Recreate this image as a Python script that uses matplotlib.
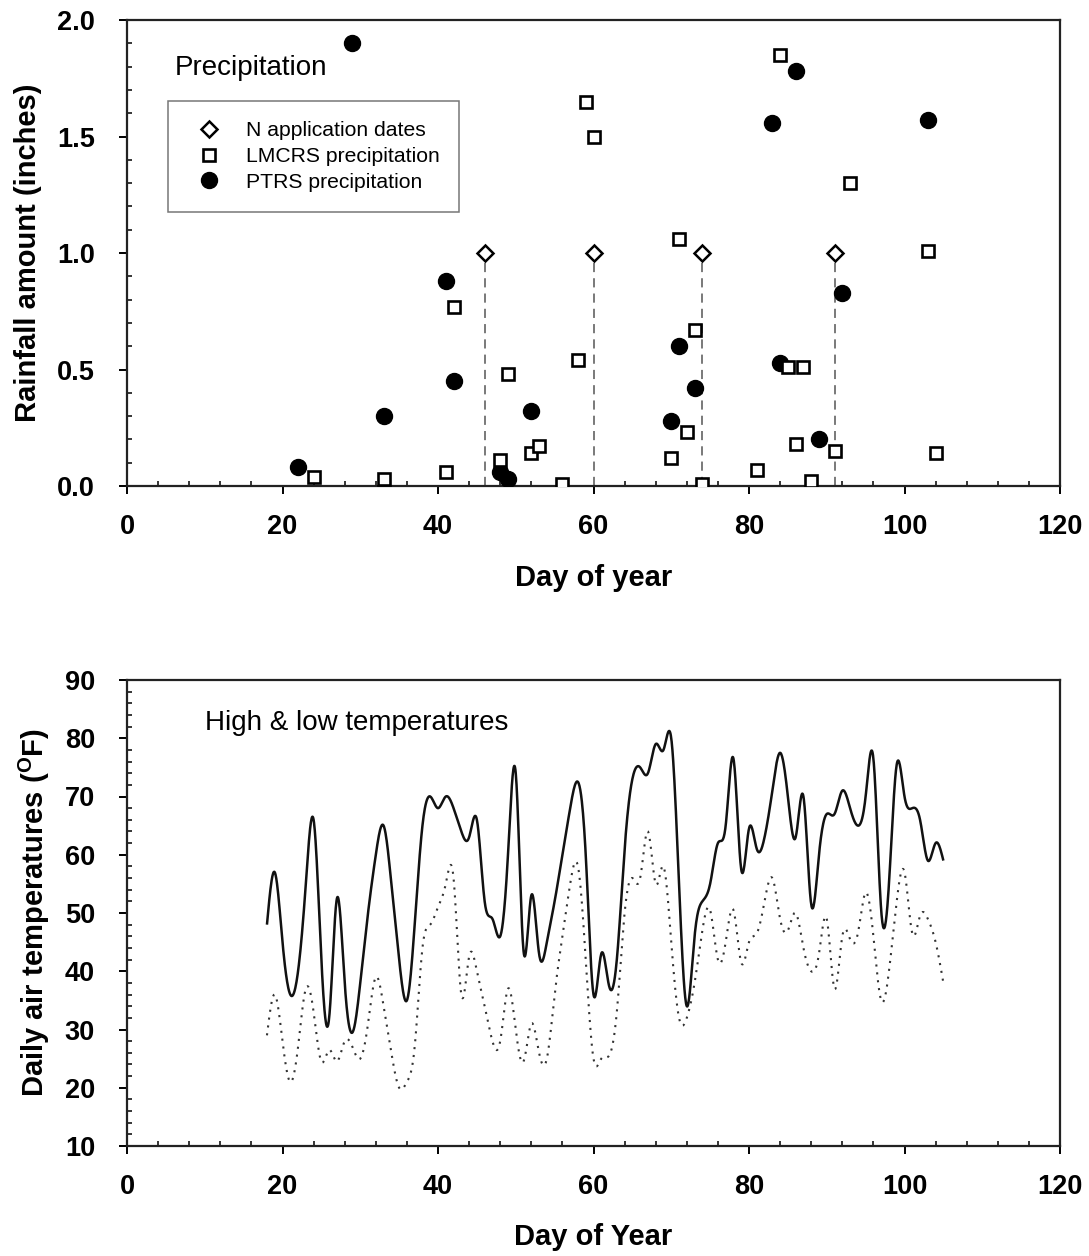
import numpy as np
import matplotlib
matplotlib.use("Agg")
import matplotlib.pyplot as plt
from matplotlib.ticker import MultipleLocator, FormatStrFormatter
from matplotlib.lines import Line2D

plt.rcParams['font.family'] = ['Liberation Sans', 'DejaVu Sans']
plt.rcParams['mathtext.fontset'] = 'custom'
plt.rcParams['mathtext.rm'] = 'Liberation Sans:bold'
plt.rcParams['mathtext.bf'] = 'Liberation Sans:bold'

# ---------------- data: precipitation ----------------
n_app_days = [46, 60, 74, 91]
n_app_vals = [1.0, 1.0, 1.0, 1.0]

lmcrs_days = [24, 33, 41, 42, 48, 49, 52, 53, 56, 58, 59, 60, 70, 71, 72, 73, 74,
              81, 84, 85, 86, 87, 88, 91, 93, 103, 104]
lmcrs_vals = [0.04, 0.03, 0.06, 0.77, 0.11, 0.48, 0.14, 0.17, 0.01, 0.54, 1.65, 1.50,
              0.12, 1.06, 0.23, 0.67, 0.01, 0.07, 1.85, 0.51, 0.18, 0.51, 0.02, 0.15,
              1.30, 1.01, 0.14]

ptrs_days = [22, 29, 33, 41, 42, 48, 49, 52, 70, 71, 73, 83, 84, 86, 89, 92, 103]
ptrs_vals = [0.08, 1.90, 0.30, 0.88, 0.45, 0.06, 0.03, 0.32, 0.28, 0.60, 0.42,
             1.56, 0.53, 1.78, 0.20, 0.83, 1.57]

# ---------------- data: temperatures ----------------
temp_days = list(range(18, 106))
high_temps = [48, 57, 45, 36, 40, 55, 66, 42, 32, 52.5, 38, 29.5, 38, 50, 60, 65, 55, 42,
              35, 48, 65, 70, 68, 70, 68, 64, 63, 66, 52, 49, 46, 60, 74, 43.5, 53, 43,
              45, 52, 60, 68, 72.5, 60, 36, 43, 37.5, 42, 61, 73, 75, 74, 79, 78, 80, 55,
              34, 46, 52, 55, 62, 65, 76.5, 57.5, 64.5, 61, 63, 71, 77.5, 70, 63, 70, 51.5,
              60, 67, 67, 71, 68, 65, 70, 76.5, 50.5, 55, 75.5, 70, 68, 66, 59, 62, 59]
low_temps = [29, 36, 28, 21, 27, 37, 33, 24.5, 26.5, 24.5, 28, 27, 25, 31, 39, 34, 26, 20,
             21, 27, 44, 48, 51, 55, 56, 36, 42.5, 40, 34, 28, 28, 37, 30, 24.5, 31, 26,
             25, 36, 46, 55, 58, 42, 25, 25, 25.5, 33, 50, 56, 56, 64, 55, 58, 45, 32,
             32, 38, 47, 50.5, 42, 45, 50.5, 41.5, 45, 46.5, 52, 56, 49, 47, 50, 44, 40,
             43, 49, 37, 46, 45.5, 46.5, 53.5, 46, 35, 40, 52, 57, 46.5, 49.5, 49, 45, 38]

x_ticks = [0, 20, 40, 60, 80, 100, 120]


def natural_spline(x, y, n=20):
    """Smooth rendering of a daily series (natural cubic spline through the points)."""
    x = np.asarray(x, float)
    y = np.asarray(y, float)
    m = len(x)
    h = np.diff(x)
    A = np.zeros((m, m))
    r = np.zeros(m)
    A[0, 0] = A[-1, -1] = 1.0
    for i in range(1, m - 1):
        A[i, i - 1] = h[i - 1]
        A[i, i] = 2 * (h[i - 1] + h[i])
        A[i, i + 1] = h[i]
        r[i] = 6 * ((y[i + 1] - y[i]) / h[i] - (y[i] - y[i - 1]) / h[i - 1])
    M = np.linalg.solve(A, r)
    xs, ys = [], []
    for i in range(m - 1):
        t = np.linspace(x[i], x[i + 1], n, endpoint=(i == m - 2))
        a = x[i + 1] - t
        b = t - x[i]
        s = (M[i] * a ** 3 + M[i + 1] * b ** 3) / (6 * h[i]) \
            + (y[i] / h[i] - M[i] * h[i] / 6) * a + (y[i + 1] / h[i] - M[i + 1] * h[i] / 6) * b
        xs.append(t)
        ys.append(s)
    return np.concatenate(xs), np.concatenate(ys)


W, H = 1089, 1256
fig = plt.figure(figsize=(W / 100, H / 100), dpi=100)

L, R = 127, 1060


def make_axes(top, bottom):
    return fig.add_axes([L / W, 1 - bottom / H, (R - L) / W, (bottom - top) / H])


ax1 = make_axes(20, 486)
ax2 = make_axes(680, 1146)

TICK_FS = 19.5
LABEL_FS = 21

for ax in (ax1, ax2):
    for s in ax.spines.values():
        s.set_linewidth(1.6)
        s.set_color('#222222')
    ax.set_xlim(0, 120)
    ax.set_xticks(x_ticks)
    ax.xaxis.set_minor_locator(MultipleLocator(4))
    ax.tick_params(which='major', direction='out', length=6, width=1.4,
                   labelsize=TICK_FS, top=False, right=False)
    ax.tick_params(which='minor', direction='in', length=3.5, width=1.1,
                   top=False, right=False)
    ax.tick_params(axis='x', which='major', pad=14)
    ax.tick_params(axis='y', which='major', pad=17)

# ---------------- top: precipitation ----------------
ax1.set_ylim(0, 2.0)
ax1.set_yticks([0, 0.5, 1.0, 1.5, 2.0])
ax1.yaxis.set_major_formatter(FormatStrFormatter('%.1f'))
ax1.yaxis.set_minor_locator(MultipleLocator(0.1))
for lab in ax1.get_xticklabels() + ax1.get_yticklabels():
    lab.set_fontweight('bold')
    lab.set_fontsize(TICK_FS)

ax1.vlines(n_app_days, 0, n_app_vals, colors='#555555', linestyles=(0, (6, 4)),
           linewidth=1.1, zorder=2)
ax1.plot(n_app_days, n_app_vals, linestyle='none', marker='D', markersize=8,
         markerfacecolor='white', markeredgecolor='black', markeredgewidth=1.8, zorder=4)
ax1.plot(ptrs_days, ptrs_vals, linestyle='none', marker='o', markersize=11.5,
         markerfacecolor='black', markeredgecolor='black', zorder=3)
ax1.plot(lmcrs_days, lmcrs_vals, linestyle='none', marker='s', markersize=8.5,
         markerfacecolor='white', markeredgecolor='black', markeredgewidth=1.9, zorder=4)

ax1.text(0.051, 0.896, 'Precipitation', transform=ax1.transAxes, fontsize=20,
         ha='left', va='center')

handles = [
    Line2D([], [], linestyle='none', marker='D', markersize=8, markerfacecolor='white',
           markeredgecolor='black', markeredgewidth=1.8),
    Line2D([], [], linestyle='none', marker='s', markersize=8.5, markerfacecolor='white',
           markeredgecolor='black', markeredgewidth=1.9),
    Line2D([], [], linestyle='none', marker='o', markersize=11.5, markerfacecolor='black',
           markeredgecolor='black'),
]
labels = ['N application dates', 'LMCRS precipitation', 'PTRS precipitation']
leg = ax1.legend(handles, labels, loc='upper left',
                 bbox_to_anchor=(0.044, 0.59, 0.312, 0.236), mode='expand',
                 fontsize=15.2, frameon=True, fancybox=False, edgecolor='#555555',
                 borderpad=0.95, labelspacing=0.32, handlelength=2.0,
                 handletextpad=0.75, borderaxespad=0.0, numpoints=1)
leg.get_frame().set_linewidth(1.1)

ax1.set_ylabel('Rainfall amount (inches)', fontsize=LABEL_FS, fontweight='bold')
ax1.set_xlabel('Day of year', fontsize=LABEL_FS, fontweight='bold')
ax1.yaxis.set_label_coords(-0.106, 0.5)
ax1.yaxis.label.set_va('center')
ax1.xaxis.set_label_coords(0.5, -0.197)
ax1.xaxis.label.set_va('center')

# ---------------- bottom: temperatures ----------------
ax2.set_ylim(10, 90)
ax2.set_yticks(range(10, 91, 10))
ax2.yaxis.set_minor_locator(MultipleLocator(2))
for lab in ax2.get_xticklabels() + ax2.get_yticklabels():
    lab.set_fontweight('bold')
    lab.set_fontsize(TICK_FS)

hx, hy = natural_spline(temp_days, high_temps)
lx, ly = natural_spline(temp_days, low_temps)
ax2.plot(hx, hy, color='#111111', linewidth=1.8, solid_capstyle='butt')
ax2.plot(lx, ly, color='#333333', linewidth=1.5, linestyle=(0, (1, 2.8)))

ax2.text(0.0836, 0.908, 'High & low temperatures', transform=ax2.transAxes,
         fontsize=20, ha='left', va='center')

ax2.set_ylabel(r'Daily air temperatures ($^{\mathrm{O}}$F)', fontsize=LABEL_FS,
               fontweight='bold')
ax2.set_xlabel('Day of Year', fontsize=LABEL_FS, fontweight='bold')
ax2.yaxis.set_label_coords(-0.099, 0.5)
ax2.yaxis.label.set_va('center')
ax2.xaxis.set_label_coords(0.5, -0.195)
ax2.xaxis.label.set_va('center')

fig.savefig('out.png', dpi=100)
